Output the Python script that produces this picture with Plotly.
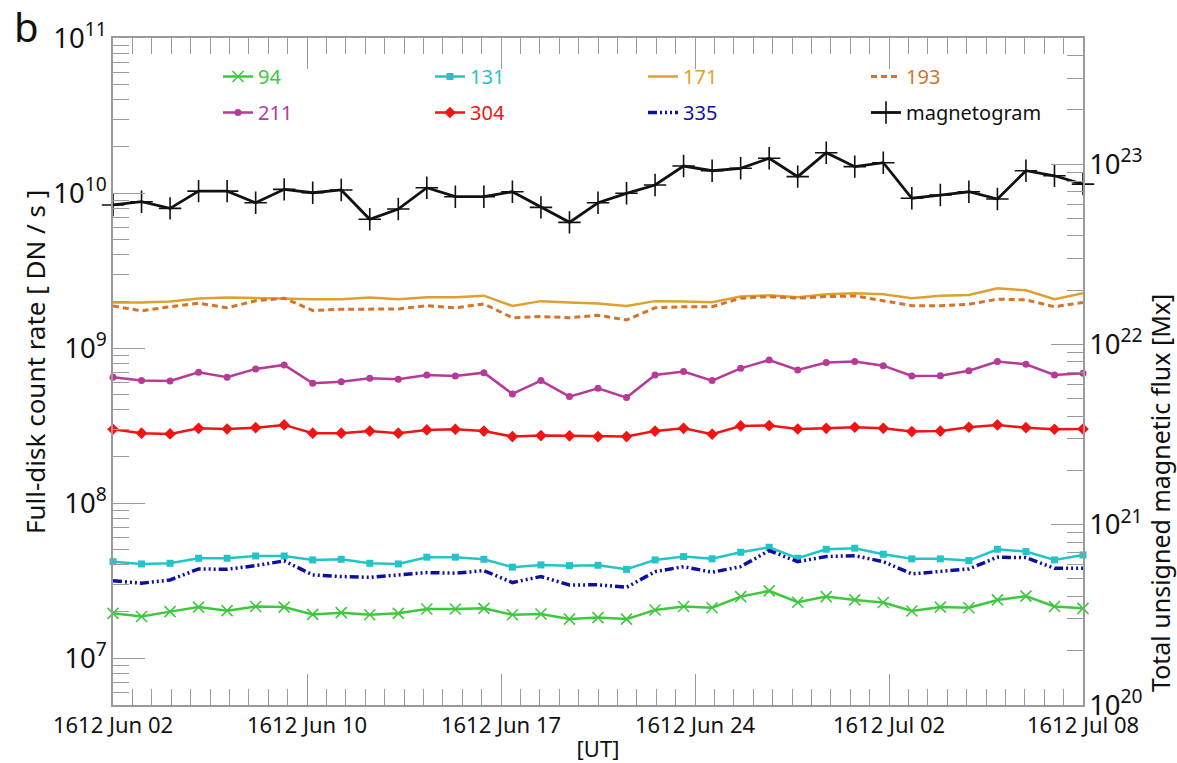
import plotly.graph_objects as go
import math

# ---------------- data ----------------
obs_index = list(range(35))  # observation number (roughly daily cadence)
x_tick_pos = [0, 6.8, 13.6, 20.4, 27.2, 34]
x_tick_text = ["1612 Jun 02", "1612 Jun 10", "1612 Jun 17",
               "1612 Jun 24", "1612 Jul 02", "1612 Jul 08"]

aia_94 = [1.95e7, 1.86e7, 2.00e7, 2.14e7, 2.03e7, 2.16e7, 2.14e7, 1.92e7, 1.97e7, 1.91e7,
          1.95e7, 2.08e7, 2.08e7, 2.10e7, 1.91e7, 1.93e7, 1.79e7, 1.83e7, 1.79e7, 2.05e7,
          2.16e7, 2.12e7, 2.50e7, 2.72e7, 2.30e7, 2.50e7, 2.38e7, 2.29e7, 2.02e7, 2.14e7,
          2.12e7, 2.38e7, 2.52e7, 2.16e7, 2.10e7]
aia_131 = [4.20e7, 4.06e7, 4.10e7, 4.42e7, 4.42e7, 4.57e7, 4.57e7, 4.31e7, 4.35e7, 4.10e7,
           4.06e7, 4.49e7, 4.49e7, 4.35e7, 3.87e7, 4.00e7, 3.96e7, 3.98e7, 3.75e7, 4.31e7,
           4.53e7, 4.38e7, 4.83e7, 5.20e7, 4.42e7, 5.05e7, 5.13e7, 4.69e7, 4.38e7, 4.38e7,
           4.27e7, 5.05e7, 4.88e7, 4.31e7, 4.64e7]
aia_171 = [1.97e9, 1.97e9, 2.00e9, 2.09e9, 2.12e9, 2.10e9, 2.10e9, 2.07e9, 2.07e9, 2.12e9,
           2.07e9, 2.13e9, 2.13e9, 2.18e9, 1.87e9, 2.01e9, 1.97e9, 1.94e9, 1.87e9, 2.01e9,
           2.00e9, 1.98e9, 2.15e9, 2.19e9, 2.13e9, 2.23e9, 2.26e9, 2.23e9, 2.10e9, 2.18e9,
           2.20e9, 2.43e9, 2.36e9, 2.07e9, 2.26e9]
aia_193 = [1.87e9, 1.74e9, 1.85e9, 1.95e9, 1.82e9, 2.02e9, 2.10e9, 1.75e9, 1.78e9, 1.78e9,
           1.79e9, 1.88e9, 1.82e9, 1.93e9, 1.57e9, 1.60e9, 1.57e9, 1.63e9, 1.52e9, 1.82e9,
           1.85e9, 1.85e9, 2.10e9, 2.15e9, 2.10e9, 2.15e9, 2.17e9, 2.02e9, 1.88e9, 1.88e9,
           1.92e9, 2.07e9, 2.05e9, 1.85e9, 1.97e9]
aia_211 = [6.49e8, 6.18e8, 6.14e8, 6.99e8, 6.49e8, 7.35e8, 7.80e8, 5.94e8, 6.08e8, 6.40e8,
           6.30e8, 6.71e8, 6.62e8, 6.95e8, 5.07e8, 6.18e8, 4.87e8, 5.51e8, 4.80e8, 6.71e8,
           7.06e8, 6.18e8, 7.41e8, 8.39e8, 7.24e8, 8.07e8, 8.19e8, 7.71e8, 6.62e8, 6.65e8,
           7.16e8, 8.19e8, 7.87e8, 6.71e8, 6.89e8]
aia_304 = [3.00e8, 2.83e8, 2.80e8, 3.04e8, 3.01e8, 3.07e8, 3.20e8, 2.83e8, 2.83e8, 2.92e8,
           2.83e8, 2.97e8, 3.00e8, 2.92e8, 2.69e8, 2.73e8, 2.72e8, 2.69e8, 2.69e8, 2.92e8,
           3.04e8, 2.79e8, 3.15e8, 3.17e8, 3.01e8, 3.04e8, 3.09e8, 3.04e8, 2.90e8, 2.92e8,
           3.09e8, 3.20e8, 3.07e8, 3.00e8, 3.01e8]
aia_335 = [3.16e7, 3.05e7, 3.20e7, 3.77e7, 3.75e7, 3.96e7, 4.25e7, 3.45e7, 3.37e7, 3.33e7,
           3.45e7, 3.57e7, 3.54e7, 3.68e7, 3.08e7, 3.37e7, 2.97e7, 2.98e7, 2.87e7, 3.62e7,
           3.90e7, 3.59e7, 3.90e7, 4.95e7, 4.20e7, 4.53e7, 4.59e7, 4.20e7, 3.50e7, 3.62e7,
           3.77e7, 4.49e7, 4.46e7, 3.81e7, 3.81e7]
mag_flux = [5.93e22, 6.18e22, 5.68e22, 7.08e22, 7.08e22, 6.10e22, 7.24e22, 6.93e22, 7.18e22, 4.94e22,
            5.63e22, 7.39e22, 6.59e22, 6.59e22, 7.02e22, 5.75e22, 4.75e22, 6.10e22, 6.88e22, 7.65e22,
            9.75e22, 9.18e22, 9.47e22, 1.076e23, 8.51e22, 1.155e23, 9.67e22, 1.017e23, 6.46e22, 6.73e22,
            7.02e22, 6.40e22, 9.18e22, 8.61e22, 7.74e22]

FONT = "Noto Sans"
AXC = "#9a9a9a"

fig = go.Figure()

def add(y, name, color, legend, yaxis="y", dash="solid", width=2.5, symbol=None, msize=7, thin=False):
    mode = "lines+markers" if symbol else "lines"
    marker = None
    if symbol:
        if thin:
            marker = dict(symbol=symbol, size=msize, color=color, line=dict(width=1.6, color=color))
        else:
            marker = dict(symbol=symbol, size=msize, color=color, line=dict(width=0))
    fig.add_trace(go.Scatter(
        x=obs_index, y=y, mode=mode, yaxis=yaxis, legend=legend, legendgroup=name,
        name=f"<span style='color:{color}'>{name}</span>",
        line=dict(color=color, width=width, dash=dash),
        marker=marker, cliponaxis=False,
    ))

add(aia_94, "94", "#3ec83e", "legend", symbol="x-thin", msize=11, thin=True)
add(aia_131, "131", "#22c4c8", "legend2", symbol="square", msize=7)
add(aia_171, "171", "#e0a030", "legend3")
add(aia_193, "193", "#d4742a", "legend4", dash="6px,4px", width=3)
add(aia_211, "211", "#b63a98", "legend", symbol="circle", msize=7)
add(aia_304, "304", "#f01414", "legend2", symbol="diamond", msize=9)
add(aia_335, "335", "#1010a0", "legend3", dash="9px,3px,2px,3px,2px,3px,2px,3px", width=3.5)
add(mag_flux, "magnetogram", "#111111", "legend4", yaxis="y2", symbol="cross-thin", msize=16, thin=True, width=2.8)

W, H = 1177, 763
ML, MR, MT, MB = 113, 94, 38, 58
PW, PH = W - ML - MR, H - MT - MB

def px_to_paper_y(py):
    return (H - MB - py) / PH

def px_to_paper_x(px):
    return (px - ML) / PW

legend_common = dict(orientation="v", xanchor="left", yanchor="top",
                     tracegroupgap=7, traceorder="grouped",
                     bgcolor="rgba(0,0,0,0)", font=dict(family=FONT, size=20, color="#111"),
                     itemclick=False, itemdoubleclick=False)
legend_top = px_to_paper_y(57)

fig.update_layout(
    width=W, height=H,
    margin=dict(l=ML, r=MR, t=MT, b=MB, autoexpand=False),
    paper_bgcolor="white", plot_bgcolor="white",
    font=dict(family=FONT, size=22, color="#111"),
    legend=dict(x=px_to_paper_x(218), y=legend_top, **legend_common),
    legend2=dict(x=px_to_paper_x(430), y=legend_top, **legend_common),
    legend3=dict(x=px_to_paper_x(643), y=legend_top, **legend_common),
    legend4=dict(x=px_to_paper_x(866), y=legend_top, **legend_common),
    xaxis=dict(
        range=[0, 34], tickmode="array", tickvals=x_tick_pos, ticktext=x_tick_text,
        ticks="inside", ticklen=31, tickwidth=1.2, tickcolor=AXC,
        showline=True, linecolor=AXC, linewidth=1.5, mirror="ticks",
        showgrid=False, zeroline=False, automargin=False,
        minor=dict(ticks="inside", ticklen=16, tickwidth=1.2, tickcolor=AXC, dtick=0.68, tick0=0, showgrid=False),
        tickfont=dict(family=FONT, size=22, color="#111"),
        title=dict(text="[UT]", font=dict(family=FONT, size=22, color="#111")),
    ),
    yaxis=dict(
        type="log", range=[math.log10(5e6), 11], dtick=1,
        exponentformat="power", showexponent="all",
        ticks="inside", ticklen=32, tickwidth=1.2, tickcolor=AXC,
        showline=True, linecolor=AXC, linewidth=1.5, mirror=False,
        showgrid=False, zeroline=False, automargin=False,
        minor=dict(ticks="inside", ticklen=16, tickwidth=1.2, tickcolor=AXC, dtick="D1", showgrid=False),
        tickfont=dict(family=FONT, size=22, color="#111"),
    ),
    yaxis2=dict(
        type="log", range=[20, math.log10(5e23)], dtick=1, overlaying="y", side="right",
        exponentformat="power", showexponent="all",
        ticks="inside", ticklen=32, tickwidth=1.2, tickcolor=AXC,
        showline=True, linecolor=AXC, linewidth=1.5,
        showgrid=False, zeroline=False, automargin=False,
        minor=dict(ticks="inside", ticklen=16, tickwidth=1.2, tickcolor=AXC, dtick="D1", showgrid=False),
        tickfont=dict(family=FONT, size=22, color="#111"),
    ),
    annotations=[
        dict(text="b", xref="paper", yref="paper", x=px_to_paper_x(26), y=px_to_paper_y(27),
             xanchor="center", yanchor="middle", showarrow=False,
             font=dict(family=FONT, size=40, color="#111")),
        dict(text="Full-disk count rate [ DN / s ]", xref="paper", yref="paper",
             x=px_to_paper_x(35), y=px_to_paper_y(362), textangle=-90,
             xanchor="center", yanchor="middle", showarrow=False,
             font=dict(family=FONT, size=26, color="#111")),
        dict(text="Total unsigned magnetic flux [Mx]", xref="paper", yref="paper",
             x=px_to_paper_x(1160), y=px_to_paper_y(493), textangle=-90,
             xanchor="center", yanchor="middle", showarrow=False,
             font=dict(family=FONT, size=25, color="#111")),
    ],
)

# remove the browser's default 8px page margin so the figure sits at the window origin
fig.write_html("out.html", config={"displayModeBar": False},
               post_script="document.body.style.margin='0';document.body.style.overflow='hidden';")
